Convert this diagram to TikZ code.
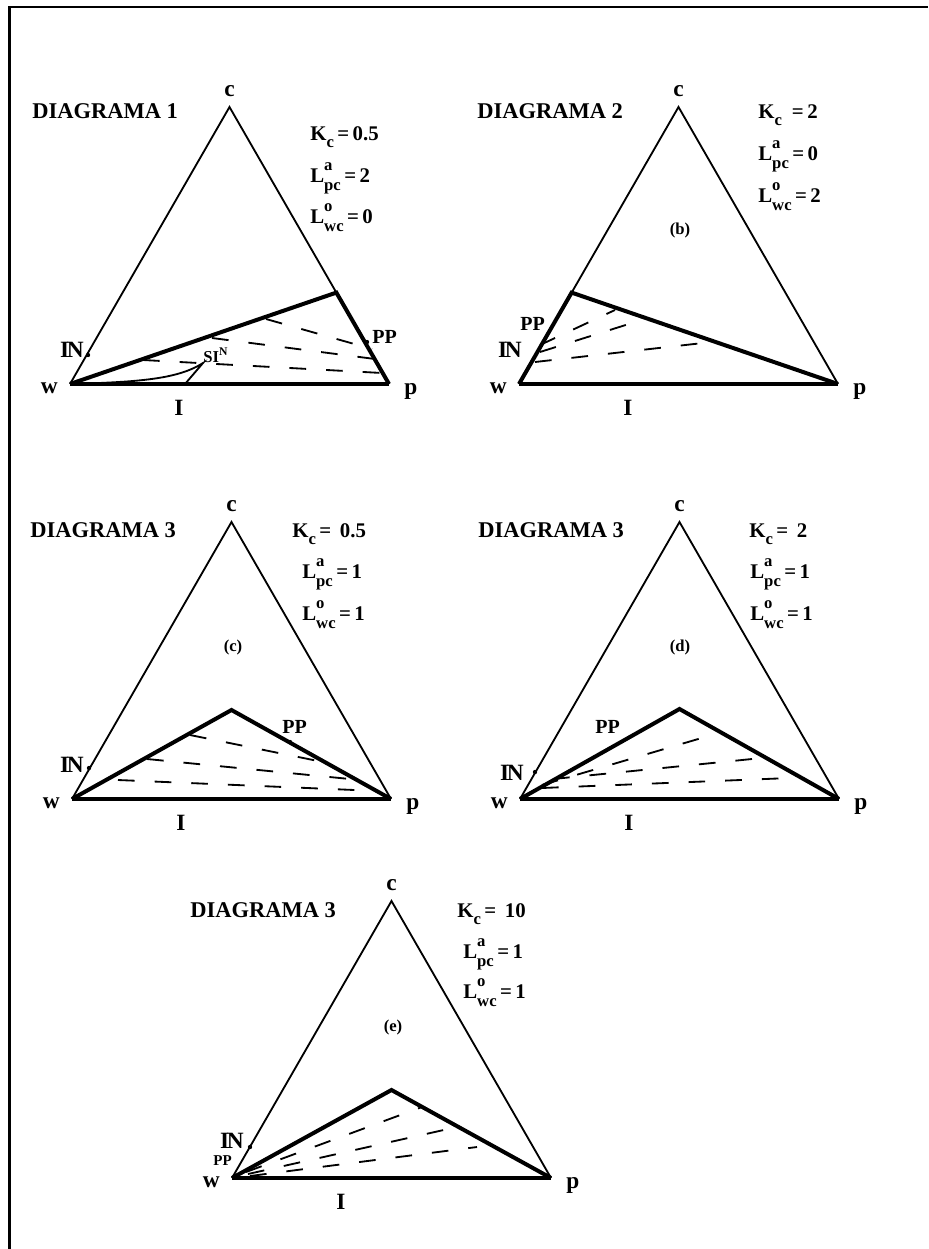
\documentclass[tikz,border=0pt]{standalone}
\usepackage{fontspec}
\setmainfont{Liberation Serif}
\usetikzlibrary{calc}
\newcommand{\lsub}[1]{\raisebox{-0.8ex}{\fontsize{10}{10}\selectfont #1}}
\newcommand{\lsupsub}[2]{\rlap{\raisebox{1.2ex}{\fontsize{10}{10}\selectfont #1}}\raisebox{-0.9ex}{\fontsize{10}{10}\selectfont #2}}

\begin{document}
\begin{tikzpicture}[x=0.6pt, y=-0.6pt,
    side/.style={line width=1.1pt, line join=miter},
    phase/.style={line width=2.4pt, line join=miter},
    tie/.style={line width=1.1pt, dash pattern=on 10pt off 12pt},
    vlabel/.style={font=\bfseries\fontsize{14}{14}\selectfont, inner sep=0pt},
    title/.style={font=\bfseries\fontsize{13.5}{13.5}\selectfont, inner sep=0pt, anchor=base west},
    param/.style={font=\bfseries\fontsize{12.5}{12.5}\selectfont, inner sep=0pt, anchor=base west},
    tag/.style={font=\bfseries\fontsize{10}{10}\selectfont, inner sep=0pt},
    ptlabel/.style={font=\bfseries\fontsize{12}{12}\selectfont, inner sep=0pt},
    dot/.style={circle, fill, inner sep=0pt, minimum size=2.6pt}
]
    \useasboundingbox (0,0) rectangle (928,1249);

    % Frame
    \draw[line width=1.5pt] (9.5,1249) -- (9.5,7) -- (928,7);

    % Triangles w-p-c
    \foreach \n/\x/\y in {a/70/384, b/519/384, c/72/799, d/520/799, e/232/1178} {
        \coordinate (w\n) at (\x,\y);
        \coordinate (p\n) at (\x+319,\y);
        \coordinate (c\n) at (\x+159.5,\y-277);
        \draw[side] (w\n) -- (c\n) -- (p\n);
        \draw[phase] (w\n) -- (p\n);
        \node[vlabel, anchor=base] (cl\n) at (\x+159.5,\y-288) {c};
        \node[vlabel, anchor=base east] (wl\n) at (\x-12,\y+9) {w};
        \node[vlabel, anchor=base west] (pl\n) at (\x+334,\y+10) {p};
        \node[vlabel, anchor=base] (il\n) at (\x+109,\y+31) {I};
    }

    % Diagrama 1
    \node[title] (ta) at (32,118) {DIAGRAMA 1};
    \node[param] (kca) at (310,140) {K\lsub{c}\,=\,0.5};
    \node[param] (lpa) at (310,182) {L\lsupsub{a}{pc}\,=\,2};
    \node[param] (lwa) at (310,223) {L\lsupsub{o}{wc}\,=\,0};
    \coordinate (ka) at ($(ca)!0.67!(pa)$);
    \draw[phase] (wa) -- (ka) -- (pa);
    \draw[tie] (266,319) -- (372,349);
    \draw[tie] (212,338) -- (375,359);
    \draw[tie] (143,360) -- (382,373);
    \coordinate (sia) at (203,363);
    \draw[side] (wa) .. controls (140,382) and (178,379) .. (sia) -- (185,384);
    \node[ptlabel, anchor=base west, font=\bfseries\fontsize{10}{10}\selectfont] (sil) at (203,362) {SI\textsuperscript{N}};
    \node[dot] (ina) at (88,355) {};
    \node[dot] (ppa) at (367,342) {};
    \node[vlabel, anchor=base east] (inla) at (84,357) {I\kern-1.5pt N};
    \node[ptlabel, anchor=base west] (ppla) at (372,343) {PP};

    % Diagrama 2
    \node[title] (tb) at (477,118) {DIAGRAMA 2};
    \node[param] (kcb) at (758,118) {K\lsub{c}\hspace{6pt}=\,2};
    \node[param] (lpb) at (758,160) {L\lsupsub{a}{pc}\,=\,0};
    \node[param] (lwb) at (758,202) {L\lsupsub{o}{wc}\,=\,2};
    \node[tag] (tgb) at (680,230) {(b)};
    \coordinate (kb) at ($(wb)!0.33!(cb)$);
    \draw[phase] (pb) -- (kb) -- (wb);
    \draw[tie] (540,345) -- (615,310);
    \draw[tie] (540,352) -- (632,323);
    \draw[tie] (535,362) -- (703,343);
    \node[vlabel, anchor=base east] (inlb) at (522,357) {I\kern-1.5pt N};
    \node[ptlabel, anchor=base west] (pplb) at (520,330) {PP};

    % Diagrama 3 (c)
    \node[title] (tc) at (30,537) {DIAGRAMA 3};
    \node[param] (kcc) at (292,537) {K\lsub{c}\,=\ \,0.5};
    \node[param] (lpc) at (302,578) {L\lsupsub{a}{pc}\,=\,1};
    \node[param] (lwc) at (302,620) {L\lsupsub{o}{wc}\,=\,1};
    \node[tag] (tgc) at (233,647) {(c)};
    \coordinate (kc) at (231.5,710);
    \draw[phase] (wc) -- (kc) -- (pc);
    \draw[tie] (190,735) -- (323,762);
    \draw[tie] (147,759) -- (360,780);
    \draw[tie] (118,780) -- (378,791);
    \node[dot] (inc) at (89,768) {};
    \node[dot] (ppc) at (290,742) {};
    \node[vlabel, anchor=base east] (inlc) at (84,772) {I\kern-1.5pt N};
    \node[ptlabel, anchor=base west] (pplc) at (282,733) {PP};

    % Diagrama 3 (d)
    \node[title] (td) at (478,537) {DIAGRAMA 3};
    \node[param] (kcd) at (749,537) {K\lsub{c}\,=\ \,2};
    \node[param] (lpd) at (750,578) {L\lsupsub{a}{pc}\,=\,1};
    \node[param] (lwd) at (750,620) {L\lsupsub{o}{wc}\,=\,1};
    \node[tag] (tgd) at (680,647) {(d)};
    \coordinate (kd) at (679.5,709);
    \draw[phase] (wd) -- (kd) -- (pd);
    \draw[tie] (542,785) -- (705,737);
    \draw[tie] (553,779) -- (762,758);
    \draw[tie] (542,788) -- (790,778);
    \node[dot] (ind) at (535,772) {};
    \node[vlabel, anchor=base east] (inld) at (524,780) {I\kern-1.5pt N};
    \node[ptlabel, anchor=base west] (ppld) at (595,733) {PP};

    % Diagrama 3 (e)
    \node[title] (te) at (190,917) {DIAGRAMA 3};
    \node[param] (kce) at (457,917) {K\lsub{c}\,=\ \,10};
    \node[param] (lpe) at (463,958) {L\lsupsub{a}{pc}\,=\,1};
    \node[param] (lwe) at (463,998) {L\lsupsub{o}{wc}\,=\,1};
    \node[tag] (tge) at (393,1027) {(e)};
    \coordinate (ke) at (391.5,1090);
    \draw[phase] (we) -- (ke) -- (pe);
    \draw[tie] (246,1172) -- (422,1107);
    \draw[tie] (248,1174) -- (457,1127);
    \draw[tie] (250,1176) -- (477,1147);
    \node[dot] (ine) at (250,1147) {};
    \node[vlabel, anchor=base east] (inle) at (244,1148) {I\kern-1.5pt N};
    \node[ptlabel, anchor=base west, font=\bfseries\fontsize{9}{9}\selectfont] (pple) at (213,1165) {PP};
\end{tikzpicture}
\end{document}
